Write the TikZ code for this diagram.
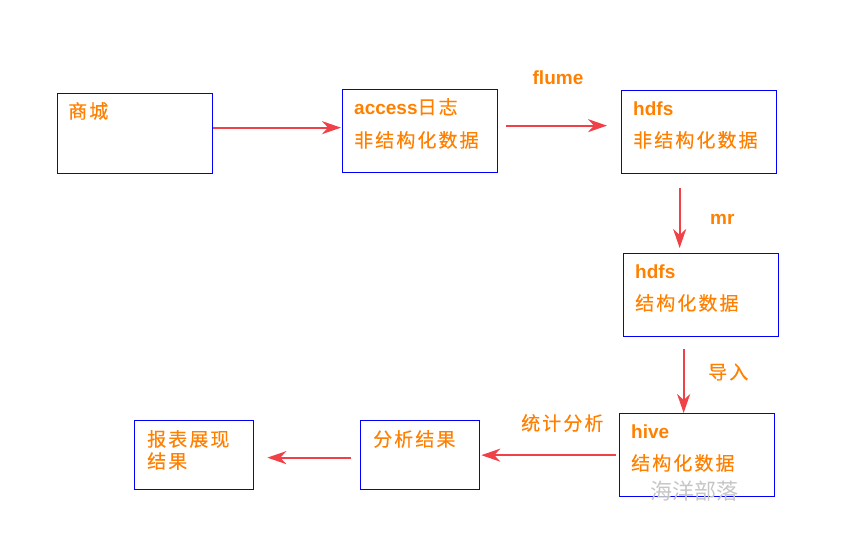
\documentclass[tikz,border=0pt]{standalone}
\usepackage{fontspec}
\setmainfont{Liberation Sans}
\newfontfamily\cjk[LetterSpace=11, FakeBold=0.25]{Noto Sans CJK SC}
\newfontfamily\wmfont{Noto Sans CJK SC}
\usepackage{xcolor}
\definecolor{boxblue}{RGB}{0,0,250}
\definecolor{arrred}{RGB}{240,64,72}
\definecolor{txtorange}{RGB}{255,128,0}
\usetikzlibrary{arrows.meta}

\begin{document}
\begin{tikzpicture}[x=1pt, y=-1pt, >={Stealth[length=19pt,width=13pt,inset=6pt]},
    box/.style={draw=boxblue, line width=1.3pt, inner sep=0pt, anchor=north west},
    zh/.style={text=txtorange, inner sep=0pt, anchor=west, font=\fontsize{19}{22}\cjk},
    en/.style={text=txtorange, inner sep=0pt, anchor=base west, font=\fontsize{19}{22}\bfseries},
    flow/.style={->, draw=arrred, line width=2pt}]
        \useasboundingbox (0,0) rectangle (844,539);

        % boxes
        \node[box, minimum width=155pt, minimum height=80pt] (shop) at (57,93) {};
        \node[box, minimum width=155pt, minimum height=83pt] (log) at (342,89) {};
        \node[box, minimum width=155pt, minimum height=83pt] (raw) at (621,90) {};
        \node[box, minimum width=155pt, minimum height=83pt] (clean) at (623,253) {};
        \node[box, minimum width=155pt, minimum height=83pt] (hive) at (619,413) {};
        \node[box, minimum width=119pt, minimum height=69pt] (result) at (360,420) {};
        \node[box, minimum width=119pt, minimum height=69pt] (report) at (134,420) {};

        % texts in the boxes
        \node[zh] (shoptxt) at ([shift={(11,18)}]shop.north west) {商城};
        \node[en] (logtxt) at ([shift={(12,25)}]log.north west) {access{\mdseries\cjk 日志}};
        \node[zh] (logsub) at ([shift={(12,51)}]log.north west) {非结构化数据};
        \node[en] (rawtxt) at ([shift={(12,25)}]raw.north west) {hdfs};
        \node[zh] (rawsub) at ([shift={(12,50)}]raw.north west) {非结构化数据};
        \node[en] (cleantxt) at ([shift={(12,25)}]clean.north west) {hdfs};
        \node[zh] (cleansub) at ([shift={(12,50)}]clean.north west) {结构化数据};
        \node[en] (hivetxt) at ([shift={(12,25)}]hive.north west) {hive};
        \node[zh] (hivesub) at ([shift={(12,50)}]hive.north west) {结构化数据};
        \node[zh] (resulttxt) at ([shift={(13,19)}]result.north west) {分析结果};
        \node[zh] (reporttxt) at ([shift={(13,19)}]report.north west) {报表展现};
        \node[zh] (reportsub) at ([shift={(13,41)}]report.north west) {结果};

        % arrows
        \draw[flow, shorten >=1pt] ([yshift=6pt]shop.east) -- ([yshift=3.5pt]log.west);
        \draw[flow, shorten <=8pt, shorten >=14pt] ([yshift=5.5pt]log.east) -- ([yshift=6.5pt]raw.west);
        \draw[flow, shorten <=14pt, shorten >=5pt] ([xshift=-19.5pt]raw.south) -- ([xshift=-21.5pt]clean.north);
        \draw[flow, shorten <=12pt] ([xshift=-17.5pt]clean.south) -- ([xshift=-13.5pt]hive.north);
        \draw[flow, shorten <=3pt, shorten >=1pt] (hive.west) -- (result.east);
        \draw[flow, shorten <=9pt, shorten >=13pt] ([yshift=-2.5pt]result.west) -- ([yshift=-2.5pt]report.east);

        % arrow labels
        \node[en, anchor=base] (flume) at (558,84) {flume};
        \node[en] (mr) at (710,224) {mr};
        \node[zh] (load) at (708,372) {导入};
        \node[zh] (stat) at (521,423) {统计分析};

        % watermark
        \node[text=gray!45, inner sep=0pt, anchor=west, font=\fontsize{22}{24}\wmfont] (mark) at (650,491) {海洋部落};
    \end{tikzpicture}
\end{document}
